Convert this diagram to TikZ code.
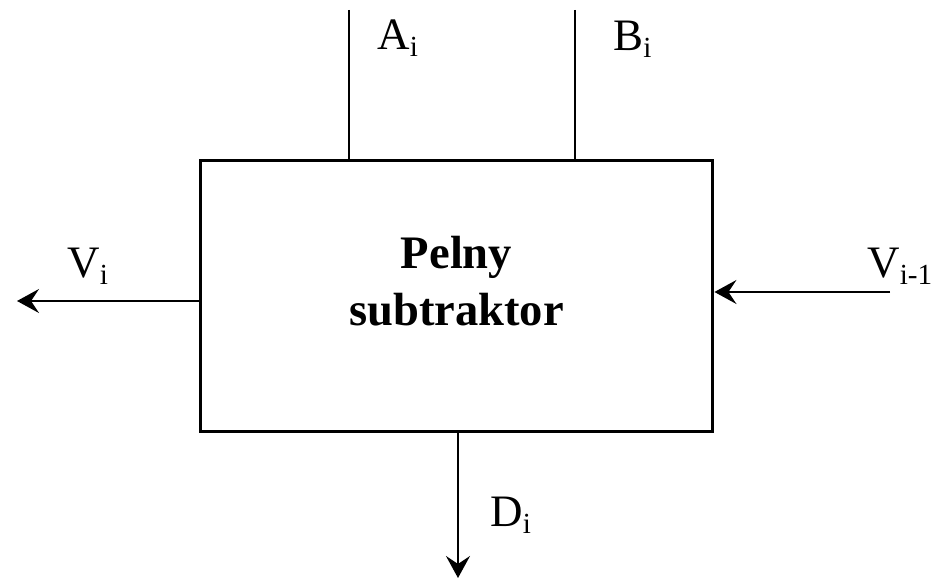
\documentclass[tikz,border=0pt]{standalone}
\usepackage{fontspec}
\setmainfont{Liberation Serif}
\usetikzlibrary{arrows.meta}

% lowered index in the label font
\newcommand{\lowidx}[1]{\raisebox{-0.14em}{\fontsize{16.6}{18}\selectfont #1}}

\begin{document}
\begin{tikzpicture}[x=0.02cm, y=-0.02cm,
  font=\fontsize{25.6}{32.5}\selectfont,
  lbl/.style={anchor=base west, inner sep=0pt},
  wire/.style={line width=0.055cm},
  sig/.style={line width=0.04cm, -{Stealth[length=0.44cm, width=0.48cm, inset=0.16cm]}}]
\useasboundingbox (0,0) rectangle (947,580);
\node[draw, line width=0.06cm, minimum width=10.26cm, minimum height=5.44cm] (box) at (456.5,296) {};
\node[align=center, font=\fontsize{26.5}{32.5}\bfseries] (name) at (456.5,281) {Pelny\\subtraktor};
% inputs on top
\coordinate (atop) at (349,10);
\coordinate (btop) at (575,10);
\draw[wire] (atop) -- (atop |- box.north);
\draw[wire] (btop) -- (btop |- box.north);
\node[lbl] (la) at (377,50) {A\lowidx{i}};
\node[lbl] (lb) at (613,51) {B\lowidx{i}};
% borrow out / borrow in
\coordinate (vout) at (17,301);
\coordinate (vin) at (890,292);
\draw[sig] (box.west |- vout) -- (vout);
\draw[sig] (vin) -- (box.east |- vin);
\node[lbl] (lv) at (67,278) {V\lowidx{i}};
\node[lbl] (lvp) at (867,278) {V\lowidx{i-1}};
% difference
\coordinate (dout) at (458,578);
\draw[sig] (dout |- box.south) -- (dout);
\node[lbl] (ld) at (490,527) {D\lowidx{i}};
\end{tikzpicture}
\end{document}
